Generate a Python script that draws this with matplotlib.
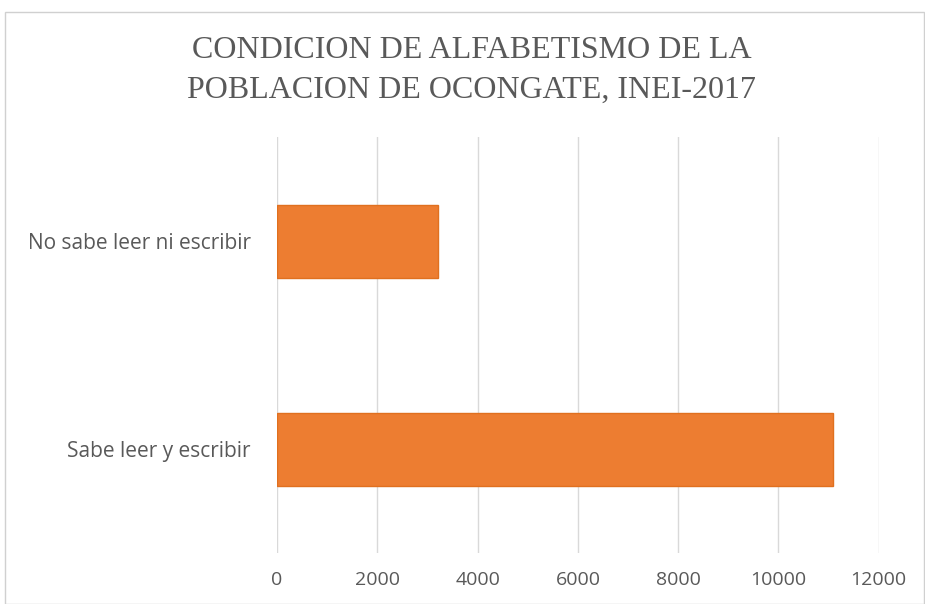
import matplotlib.pyplot as plt
from matplotlib.patches import Rectangle

categories = ["Sabe leer y escribir", "No sabe leer ni escribir"]
values = [11080, 3210]
xticks = [0, 2000, 4000, 6000, 8000, 10000, 12000]

fig = plt.figure(figsize=(9.25, 6.04), dpi=100)
ax = fig.add_axes([0.2995, 0.084, 0.6505, 0.689])

ax.barh(categories, values, height=0.35, color="#ED7D31", edgecolor="#E0701F",
        linewidth=1, zorder=3)
ax.set_xlim(0, 12000)
ax.set_ylim(-0.5, 1.5)
ax.set_xticks(xticks)
ax.grid(axis="x", color="#D9D9D9", linewidth=1, zorder=0)
for s in ax.spines.values():
    s.set_visible(False)
ax.tick_params(length=0, labelcolor="#595959")
ax.tick_params(axis="x", labelsize=14, pad=13)
ax.tick_params(axis="y", labelsize=15, pad=19)
for lab in ax.get_xticklabels() + ax.get_yticklabels():
    lab.set_family("Open Sans")

fig.text(0.510, 0.883, "CONDICION DE ALFABETISMO DE LA\nPOBLACION DE OCONGATE, INEI-2017",
         ha="center", va="center", fontsize=23, color="#595959",
         family="Liberation Serif", linespacing=1.5)

fig.patches.append(Rectangle((5 / 925, 0.0), 0.999 - 5 / 925, 1 - 12 / 604,
                             transform=fig.transFigure, fill=False,
                             edgecolor="#D0D0D0", linewidth=1))

fig.savefig("out.png", dpi=100)
